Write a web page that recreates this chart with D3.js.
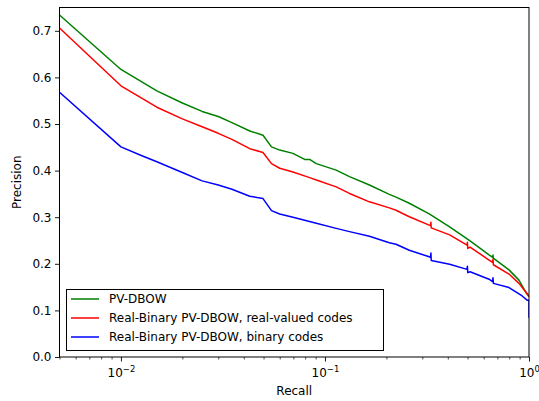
<!DOCTYPE html>
<html>
<head>
<meta charset="utf-8">
<script src="https://cdn.jsdelivr.net/npm/d3@7/dist/d3.min.js"></script>
<style>
  html, body { margin: 0; padding: 0; background: #fff; }
  svg { display: block; font-family: "DejaVu Sans", sans-serif; }
</style>
</head>
<body>
<svg id="chart" width="539" height="401"></svg>
<script>
// Recall sample points and precision for each curve
const recallPvDbow = [0.005, 0.01, 0.015, 0.02, 0.025, 0.03, 0.035, 0.0428, 0.0497, 0.0547, 0.06, 0.0697, 0.0795, 0.0841, 0.0907, 0.1135, 0.1319, 0.1652, 0.2068, 0.223, 0.259, 0.3243, 0.4084, 0.5142, 0.637, 0.664, 0.666, 0.668, 0.798, 0.893, 0.962, 1.0];
const precisionPvDbow = [0.734, 0.617, 0.571, 0.545, 0.527, 0.516, 0.503, 0.485, 0.476, 0.451, 0.444, 0.437, 0.424, 0.424, 0.415, 0.401, 0.387, 0.369, 0.349, 0.343, 0.330, 0.307, 0.279, 0.249, 0.219, 0.214, 0.219, 0.212, 0.187, 0.165, 0.140, 0.131];

const recallRealCodes = [0.005, 0.01, 0.015, 0.02, 0.025, 0.03, 0.035, 0.0428, 0.0497, 0.0547, 0.06, 0.0697, 0.0841, 0.0907, 0.1135, 0.1319, 0.1652, 0.2068, 0.223, 0.259, 0.3243, 0.329, 0.3306, 0.3318, 0.4084, 0.497, 0.499, 0.501, 0.5142, 0.637, 0.663, 0.666, 0.669, 0.798, 0.893, 0.962, 1.0];
const precisionRealCodes = [0.706, 0.582, 0.536, 0.511, 0.494, 0.480, 0.467, 0.447, 0.439, 0.415, 0.405, 0.397, 0.385, 0.380, 0.365, 0.351, 0.333, 0.320, 0.315, 0.301, 0.283, 0.282, 0.289, 0.277, 0.262, 0.240, 0.246, 0.233, 0.236, 0.208, 0.203, 0.210, 0.198, 0.178, 0.158, 0.140, 0.129];

const recallBinaryCodes = [0.005, 0.01, 0.0125, 0.015, 0.02, 0.025, 0.03, 0.035, 0.0428, 0.0497, 0.0547, 0.06, 0.0697, 0.0907, 0.1135, 0.1319, 0.1652, 0.2068, 0.223, 0.259, 0.3243, 0.329, 0.3306, 0.3318, 0.4084, 0.497, 0.499, 0.501, 0.5142, 0.637, 0.663, 0.666, 0.669, 0.798, 0.926, 0.979, 1.0, 1.0];
const precisionBinaryCodes = [0.568, 0.451, 0.433, 0.419, 0.396, 0.378, 0.369, 0.360, 0.345, 0.340, 0.314, 0.307, 0.300, 0.287, 0.276, 0.269, 0.259, 0.245, 0.242, 0.229, 0.215, 0.214, 0.223, 0.207, 0.199, 0.188, 0.195, 0.181, 0.183, 0.167, 0.162, 0.170, 0.158, 0.149, 0.131, 0.122, 0.122, 0.084];

const seriesNames = ["PV-DBOW", "Real-Binary PV-DBOW, real-valued codes", "Real-Binary PV-DBOW, binary codes"];
const seriesColors = ["#008000", "#ff0000", "#0000ff"];

const yTickValues = [0, 0.1, 0.2, 0.3, 0.4, 0.5, 0.6, 0.7];
const xMajorTicks = [0.01, 0.1, 1];
const xMajorExponents = ["\u22122", "\u22121", "0"];

const series = [
  { name: seriesNames[0], color: seriesColors[0], x: recallPvDbow, y: precisionPvDbow },
  { name: seriesNames[1], color: seriesColors[1], x: recallRealCodes, y: precisionRealCodes },
  { name: seriesNames[2], color: seriesColors[2], x: recallBinaryCodes, y: precisionBinaryCodes }
];

const svg = d3.select("#chart");
const plotLeft = 59.5, plotRight = 529, plotTop = 7.5, plotBottom = 357;

const x = d3.scaleLog().domain([0.005, 1]).range([plotLeft, plotRight]);
const y = d3.scaleLinear().domain([0, 0.75]).range([plotBottom, plotTop]);

svg.append("clipPath").attr("id", "plotClip")
  .append("rect").attr("x", plotLeft).attr("y", plotTop)
  .attr("width", plotRight - plotLeft).attr("height", plotBottom - plotTop);

// curves
const line = d3.line().x(d => x(d[0])).y(d => y(d[1]));
const plot = svg.append("g").attr("clip-path", "url(#plotClip)");
series.forEach(s => {
  plot.append("path")
    .datum(s.x.map((r, i) => [r, s.y[i]]))
    .attr("fill", "none")
    .attr("stroke", s.color)
    .attr("stroke-width", 1.5)
    .attr("stroke-linejoin", "round")
    .attr("d", line);
});

// y axis
const yAxis = svg.append("g").attr("transform", `translate(${plotLeft},0)`)
  .call(d3.axisLeft(y).tickValues(yTickValues).tickFormat(d3.format(".1f")).tickSize(4.5).tickPadding(3.5));
yAxis.select(".domain").remove();
yAxis.selectAll("text").attr("font-size", 12).attr("fill", "#000").attr("font-family", "DejaVu Sans");
yAxis.selectAll("line").attr("stroke", "#000").attr("stroke-width", 0.9);

// x axis: minor ticks
const minorTicks = [];
[0.001, 0.01, 0.1].forEach(b => { for (let k = 2; k <= 9; k++) { const v = b * k; if (v >= 0.005 && v < 1) minorTicks.push(v); } });
const xMinor = svg.append("g").attr("transform", `translate(0,${plotBottom})`)
  .call(d3.axisBottom(x).tickValues(minorTicks).tickFormat("").tickSize(2.5));
xMinor.select(".domain").remove();
xMinor.selectAll("line").attr("stroke", "#000").attr("stroke-width", 0.7);

// x axis: major ticks with power-of-ten labels
const xAxis = svg.append("g").attr("transform", `translate(0,${plotBottom})`)
  .call(d3.axisBottom(x).tickValues(xMajorTicks).tickSize(4.5).tickFormat(""));
xAxis.select(".domain").remove();
xAxis.selectAll("line").attr("stroke", "#000").attr("stroke-width", 0.9);
xAxis.selectAll(".tick text").remove();
xAxis.selectAll(".tick").each(function(d, i) {
  const t = d3.select(this).append("text")
    .attr("y", 20).attr("text-anchor", "middle")
    .attr("font-size", 12).attr("fill", "#000").attr("font-family", "DejaVu Sans");
  t.append("tspan").text("10");
  t.append("tspan").attr("dy", -5).attr("font-size", 8.5).text(xMajorExponents[i]);
});

// frame
svg.append("rect").attr("x", plotLeft).attr("y", plotTop)
  .attr("width", plotRight - plotLeft).attr("height", plotBottom - plotTop)
  .attr("fill", "none").attr("stroke", "#000").attr("stroke-width", 1);

// axis titles
svg.append("text").attr("x", (plotLeft + plotRight) / 2).attr("y", 395)
  .attr("text-anchor", "middle").attr("font-size", 12).text("Recall");
svg.append("text").attr("transform", `translate(21,${(plotTop + plotBottom) / 2}) rotate(-90)`)
  .attr("text-anchor", "middle").attr("font-size", 12).text("Precision");

// legend
const legend = svg.append("g");
legend.append("rect").attr("x", 66.5).attr("y", 289.5).attr("width", 317).attr("height", 61)
  .attr("fill", "#fff").attr("stroke", "#000").attr("stroke-width", 1);
series.forEach((s, i) => {
  const cy = 299 + i * 19;
  legend.append("line").attr("x1", 71).attr("x2", 99).attr("y1", cy).attr("y2", cy)
    .attr("stroke", s.color).attr("stroke-width", 1.5);
  legend.append("text").attr("x", 109).attr("y", cy + 4.3).attr("font-size", 12).text(s.name);
});
</script>
</body>
</html>
